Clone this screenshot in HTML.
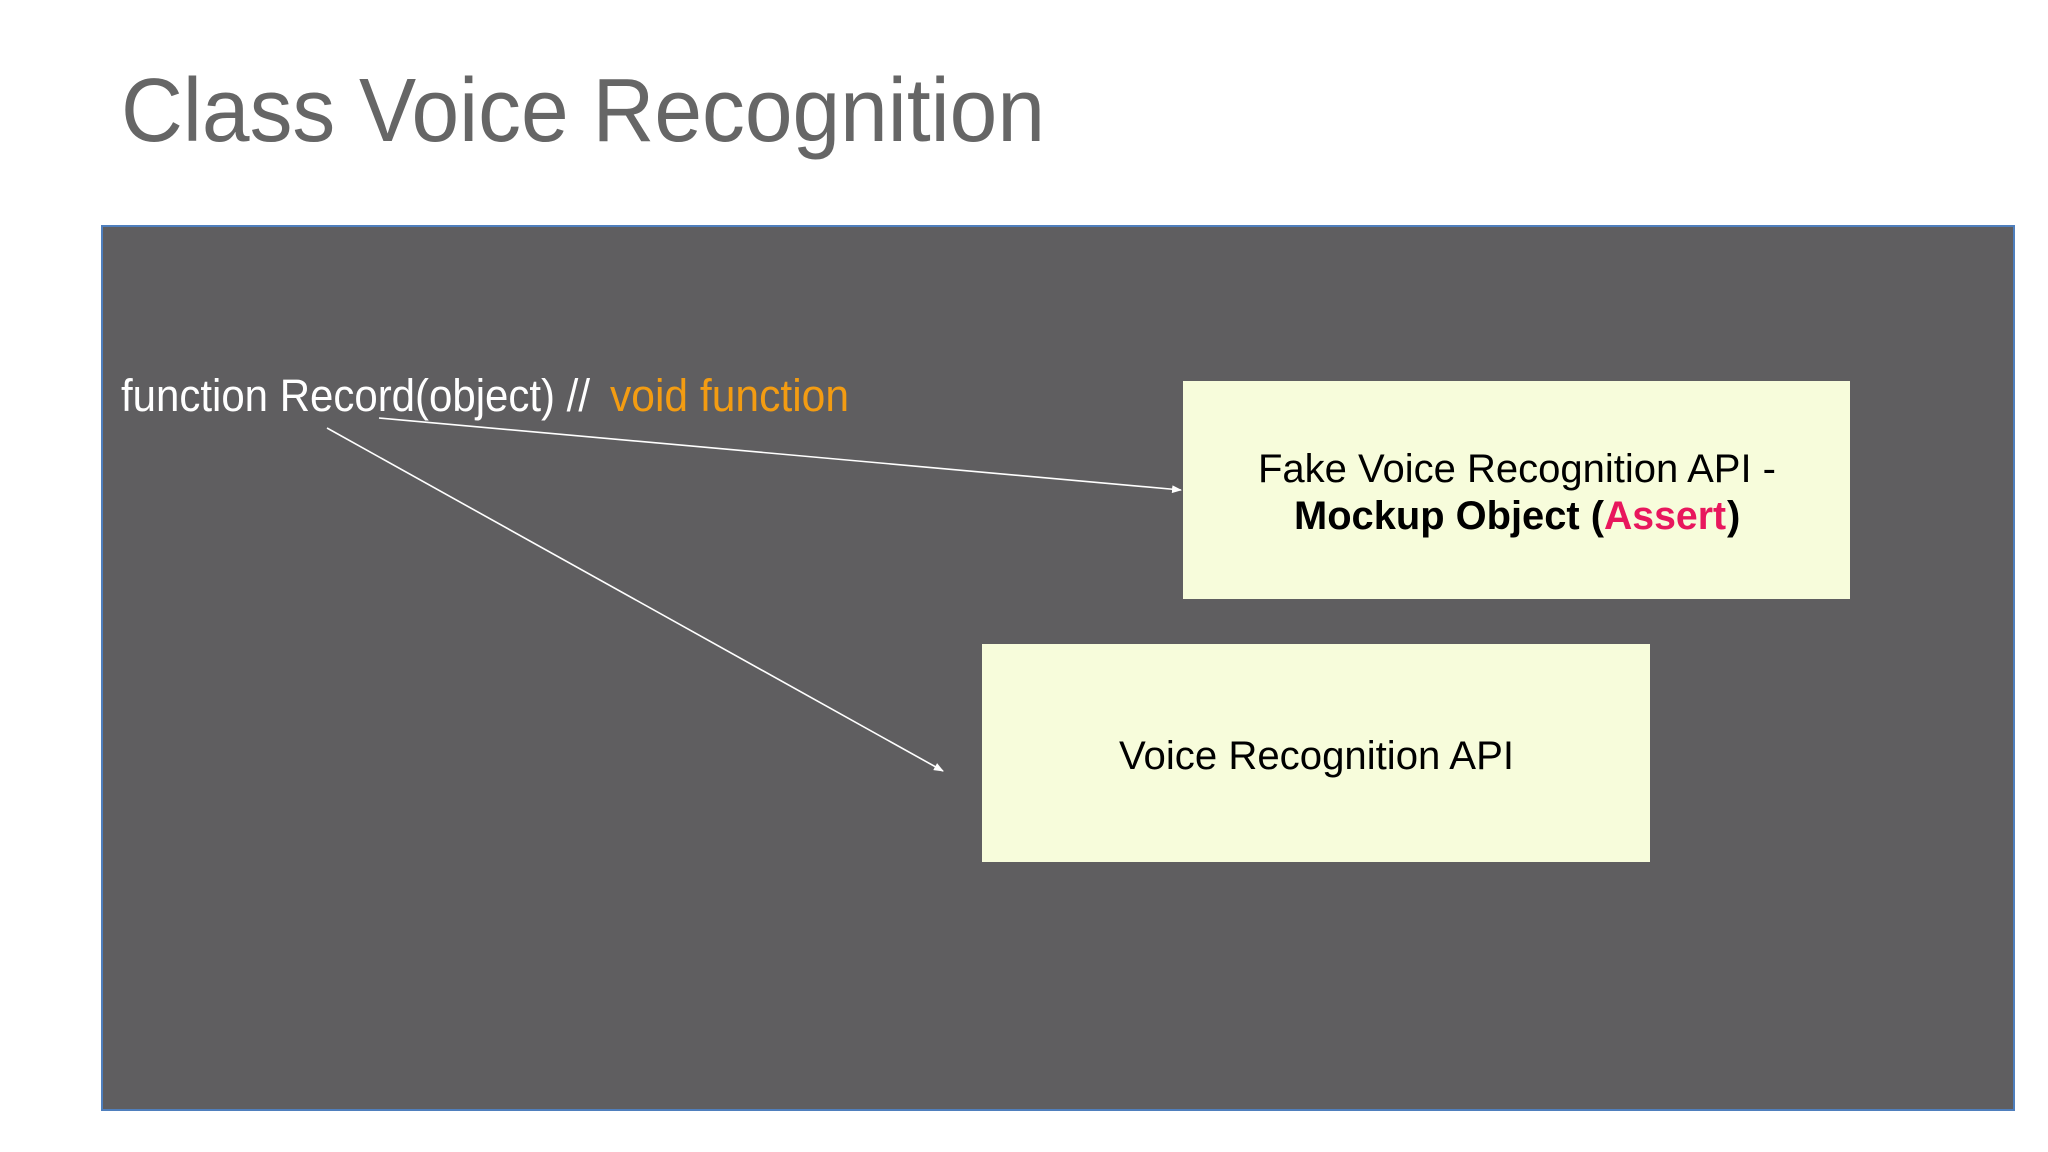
<!DOCTYPE html>
<html><head><meta charset="utf-8"><style>html,body{margin:0;padding:0;background:#fff}svg{display:block}</style></head>
<body>
<svg width="2048" height="1152" viewBox="0 0 2048 1152" xmlns="http://www.w3.org/2000/svg" font-family="Liberation Sans, sans-serif">
<defs>
<marker id="ah" markerWidth="10" markerHeight="8" refX="9" refY="4" orient="auto" markerUnits="userSpaceOnUse">
<path d="M0,0 L10,4 L0,8 z" fill="#fff"/>
</marker>
</defs>
<rect width="2048" height="1152" fill="#fff"/>
<text x="121" y="141" font-size="90" fill="#666" textLength="924" lengthAdjust="spacingAndGlyphs">Class Voice Recognition</text>
<rect x="102" y="226" width="1912" height="884" fill="#5f5e60" stroke="#4f7fbd" stroke-width="2"/>
<text x="121" y="411" font-size="45" fill="#fff" textLength="469" lengthAdjust="spacingAndGlyphs">function Record(object) //</text>
<text x="610" y="411" font-size="45" fill="#f39c12" textLength="239" lengthAdjust="spacingAndGlyphs">void function</text>
<rect x="1183" y="381" width="667" height="218" fill="#f7fcdb"/>
<rect x="982" y="644" width="668" height="218" fill="#f7fcdb"/>
<text x="1258" y="482" font-size="40" fill="#000" textLength="518" lengthAdjust="spacingAndGlyphs">Fake Voice Recognition API -</text>
<text x="1294" y="529" font-size="40" font-weight="bold" fill="#000" textLength="310" lengthAdjust="spacingAndGlyphs">Mockup Object (</text>
<text x="1604" y="529" font-size="40" font-weight="bold" fill="#e8175d" textLength="122" lengthAdjust="spacingAndGlyphs">Assert</text>
<text x="1727" y="529" font-size="40" font-weight="bold" fill="#000">)</text>
<text x="1119" y="769" font-size="40" fill="#000" textLength="395" lengthAdjust="spacingAndGlyphs">Voice Recognition API</text>
<line x1="379" y1="418" x2="1181" y2="490" stroke="#fff" stroke-width="1.6" marker-end="url(#ah)"/>
<line x1="327" y1="428" x2="943" y2="771" stroke="#fff" stroke-width="1.6" marker-end="url(#ah)"/>
</svg>
</body></html>
